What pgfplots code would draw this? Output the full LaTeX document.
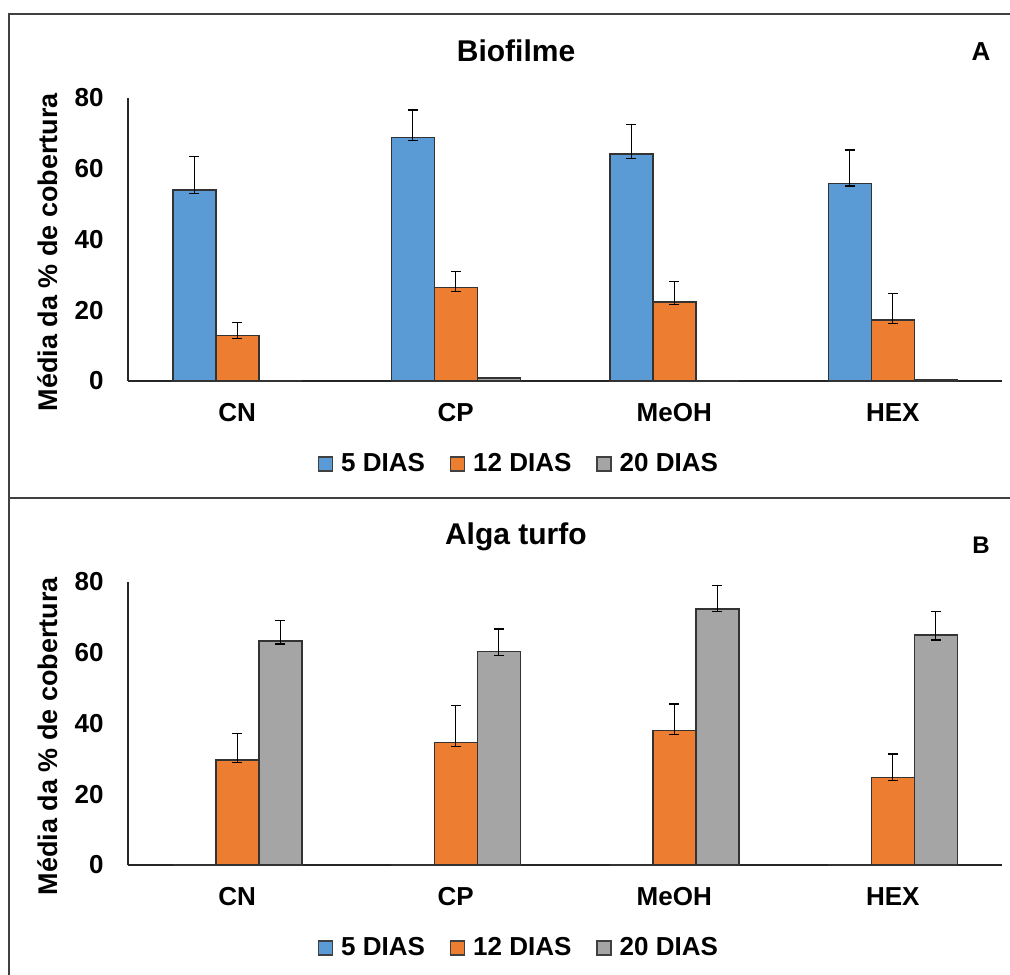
\documentclass[border=0pt]{standalone}
\usepackage{fontspec}
\setmainfont{Liberation Sans}
\usepackage{pgfplots}
\pgfplotsset{compat=1.18}
\usepackage{pgfplotstable}

\definecolor{cblue}{HTML}{5B9BD5}
\definecolor{corange}{HTML}{ED7D31}
\definecolor{cgray}{HTML}{A5A5A5}

\pgfplotstableread{
x y ep em
0 54.0 9.4 1.0
1 68.9 7.7 1.0
2 64.1 8.3 1.1
3 55.9 9.4 0.8
}\bioFive
\pgfplotstableread{
x y ep em
0 12.8 3.8 0.7
1 26.5 4.5 1.3
2 22.3 5.8 0.7
3 17.3 7.5 1.1
}\bioTwelve
\pgfplotstableread{
x y
0 0
1 0.8
2 0
3 0.3
}\bioTwenty

\pgfplotstableread{
x y
0 0
1 0
2 0
3 0
}\algFive
\pgfplotstableread{
x y ep em
0 29.7 7.5 0.8
1 34.7 10.4 1.1
2 38.0 7.5 1.2
3 24.8 6.6 0.9
}\algTwelve
\pgfplotstableread{
x y ep em
0 63.3 5.8 0.8
1 60.3 6.4 1.0
2 72.4 6.6 0.8
3 65.0 6.6 1.4
}\algTwenty

\pgfplotsset{
  every axis title/.style={anchor=base, font=\fontsize{15}{18}\selectfont\bfseries},
  panel/.style={
    width=437pt, height=141.5pt, scale only axis,
    xmin=-0.5, xmax=3.5, ymin=0, ymax=80,
    enlargelimits=false,
    axis x line*=bottom, axis y line*=left,
    xtick={0,1,2,3}, xticklabels={CN,CP,MeOH,HEX},
    ytick={0,20,40,60,80},
    major tick length=0pt,
    ybar=0pt, bar width=21.5pt,
    /pgf/number format/assume math mode=true,
    ticklabel style={font=\fontsize{13}{15}\selectfont\bfseries},
    yticklabel style={anchor=east, xshift=-8.7pt},
    xticklabel style={anchor=center, yshift=-16pt},
    ylabel={Média da \% de cobertura},
    ylabel style={at={([xshift=-35pt]axis description cs:0,0.455)}, anchor=base, font=\fontsize{13.5}{16}\selectfont\bfseries},
    axis line style={line width=0.8pt, black!85},
    clip=false,
    legend columns=3,
    legend style={draw=none, fill=none, anchor=center, at={(0.4485,-0.293)},
      font=\fontsize{13}{15}\selectfont\bfseries,
      nodes={inner xsep=2pt, inner ysep=1pt},
      /tikz/every odd column/.append style={column sep=2pt},
      /tikz/every even column/.append style={column sep=10.5pt}},
  },
  bars/.style={draw=black!80, line width=0.75pt},
  sq legend/.style={legend image code/.code={\draw[##1, draw=black!75, line width=0.6pt] (0pt,-3.5pt) rectangle (7pt,3.5pt);}},
  eb/.style={error bars/.cd, y dir=both, y explicit,
    error bar style={line width=0.6pt, black},
    error mark options={rotate=90, line width=0.6pt, mark size=2.5pt, black}},
}

\begin{document}
\begin{tikzpicture}
\useasboundingbox (0pt,0pt) rectangle (505pt,487pt);
\draw[line width=0.8pt, black!75] (4.5pt,-5pt) -- (4.5pt,480pt) -- (510pt,480pt);
\draw[line width=0.8pt, black!75] (4.5pt,237.85pt) -- (510pt,237.85pt);

\begin{axis}[panel, at={(64pt,296.5pt)}, anchor=south west,
  title={Biofilme}, title style={at={(axis description cs:0.444,1.129)}}]
\addplot[fill=cblue, bars, sq legend, eb] table[x=x, y=y, y error plus=ep, y error minus=em]{\bioFive};
\addplot[fill=corange, bars, sq legend, eb] table[x=x, y=y, y error plus=ep, y error minus=em]{\bioTwelve};
\addplot[fill=cgray, bars, sq legend] table[x=x, y=y]{\bioTwenty};
\legend{5 DIAS, 12 DIAS, 20 DIAS}
\node[anchor=base, font=\fontsize{13}{15}\selectfont\bfseries] at (axis description cs:0.976,1.134) {A};
\end{axis}

\begin{axis}[panel, at={(64pt,54.5pt)}, anchor=south west,
  title={Alga turfo}, title style={at={(axis description cs:0.4438,1.134)}}]
\addplot[fill=cblue, bars, sq legend] table[x=x, y=y]{\algFive};
\addplot[fill=corange, bars, sq legend, eb] table[x=x, y=y, y error plus=ep, y error minus=em]{\algTwelve};
\addplot[fill=cgray, bars, sq legend, eb] table[x=x, y=y, y error plus=ep, y error minus=em]{\algTwenty};
\legend{5 DIAS, 12 DIAS, 20 DIAS}
\node[anchor=base, font=\fontsize{12}{14}\selectfont\bfseries] at (axis description cs:0.976,1.1025) {B};
\end{axis}
\end{tikzpicture}
\end{document}
